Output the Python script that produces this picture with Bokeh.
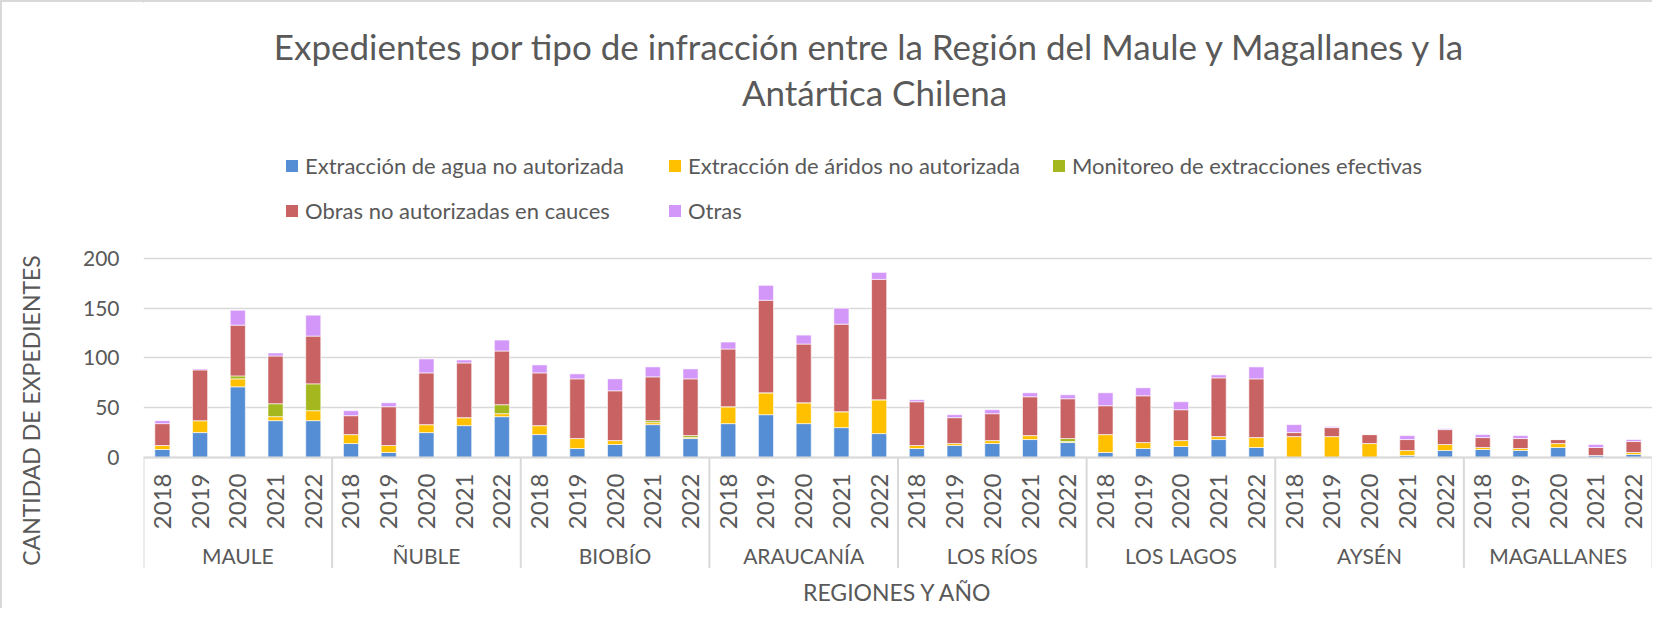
import math
from bokeh.plotting import figure
from bokeh.layouts import column
from bokeh.models import (FactorRange, Range1d, FixedTicker, ColumnDataSource,
                          Legend, LegendItem, Label)
from bokeh.core.properties import value
from bokeh.embed import file_html
from bokeh.resources import INLINE

# ---------------- data ----------------
regions = ["MAULE", "ÑUBLE", "BIOBÍO", "ARAUCANÍA", "LOS RÍOS", "LOS LAGOS", "AYSÉN", "MAGALLANES"]
years = ["2018", "2019", "2020", "2021", "2022"]

series_names = ["Extracción de agua no autorizada",
                "Extracción de áridos no autorizada",
                "Monitoreo de extracciones efectivas",
                "Obras no autorizadas en cauces",
                "Otras"]

agua = [8, 25, 71, 37, 37,
        14, 5, 25, 32, 41,
        23, 9, 13, 33, 19,
        34, 43, 34, 30, 24,
        9, 12, 14, 18, 15,
        5, 9, 11, 18, 10,
        0, 0, 0, 2, 7,
        8, 7, 10, 2, 3]
aridos = [4, 12, 8, 4, 10,
          9, 7, 8, 8, 3,
          9, 10, 4, 2, 1,
          17, 22, 21, 16, 34,
          3, 2, 3, 4, 1,
          18, 6, 6, 3, 10,
          21, 21, 14, 5, 6,
          2, 2, 4, 0, 2]
monitoreo = [0, 0, 3, 13, 27,
             0, 0, 0, 0, 9,
             0, 0, 0, 2, 2,
             0, 0, 0, 0, 0,
             0, 0, 0, 0, 3,
             0, 0, 0, 0, 0,
             0, 0, 0, 0, 0,
             0, 0, 0, 0, 0]
obras = [22, 51, 51, 48, 48,
         19, 39, 52, 55, 54,
         53, 60, 50, 44, 57,
         58, 93, 59, 88, 121,
         44, 26, 27, 39, 40,
         29, 47, 31, 59, 59,
         4, 9, 9, 11, 15,
         10, 10, 4, 8, 11]
otras = [3, 1, 15, 3, 21,
         5, 4, 14, 3, 11,
         8, 5, 12, 10, 10,
         7, 15, 9, 16, 7,
         2, 3, 4, 4, 4,
         13, 8, 8, 3, 12,
         8, 1, 0, 4, 1,
         3, 3, 0, 3, 2]

y_ticks = [0, 50, 100, 150, 200]

colors = ["#558ED5", "#FFC000", "#A5B71F", "#C96262", "#D396F9"]

title_lines = ["Expedientes por tipo de infracción entre la Región del Maule y Magallanes y la",
               "Antártica Chilena"]
y_title = "CANTIDAD DE EXPEDIENTES"
x_title = "REGIONES Y AÑO"

# ---------------- styling constants ----------------
FONT = "Lato"
TXT = "#595959"
GRID = "#d9d9d9"
LEFT = 141          # left panel width
FW = 1509           # plot frame width (page x 144 .. 1653)
HEAD_H = 238        # header frame height
MAIN_TOP = 12       # room above the bar frame for the "200" label
MAIN_H = 316        # bar frame height
FOOT_H = 40

# ---------------- header: title + legend ----------------
head = figure(frame_width=FW, frame_height=HEAD_H, output_backend="svg", toolbar_location=None,
              x_range=Range1d(144, 144 + FW), y_range=Range1d(8 + HEAD_H, 8),
              min_border_left=LEFT, min_border_right=0,
              min_border_top=0, min_border_bottom=0)
head.axis.visible = False
head.grid.visible = False
head.outline_line_color = None

for txt, x, y in [(title_lines[0], 871, 51.5), (title_lines[1], 875, 97)]:
    head.add_layout(Label(x=x, y=y, text=txt, text_font=FONT, text_font_size="35px",
                          text_color=TXT, text_align="center", text_baseline="middle"))

# legend swatches (zero-size proxies placed outside the visible range)
proxies = [head.vbar(x=[0], top=[0], bottom=[0], width=0, fill_color=c, line_color=None)
           for c in colors]
legend_pos = [(141, 61), (524, 61), (908, 61), (141, 16), (524, 16)]
for name, r, loc in zip(series_names, proxies, legend_pos):
    lg = Legend(items=[LegendItem(label=name, renderers=[r])], location=loc,
                glyph_width=15, glyph_height=15, label_standoff=6,
                label_text_font=FONT, label_text_font_size="22px", label_text_color=TXT,
                label_height=22, padding=0, margin=0, spacing=0,
                border_line_color=None, background_fill_alpha=0)
    head.add_layout(lg, "center")

# ---------------- main chart ----------------
factors = [(r, y) for r in regions for y in years]
keys = ["agua", "aridos", "monitoreo", "obras", "otras"]
source = ColumnDataSource(dict(x=factors, agua=agua, aridos=aridos,
                               monitoreo=monitoreo, obras=obras, otras=otras))

x_range = FactorRange(*factors, range_padding=0, group_padding=0, factor_padding=0,
                      subgroup_padding=0)
y_range = Range1d(-111.6, 206)

p = figure(x_range=x_range, y_range=y_range, frame_width=FW, frame_height=MAIN_H,
           output_backend="svg", toolbar_location=None,
           min_border_left=LEFT, min_border_right=0, min_border_top=MAIN_TOP,
           min_border_bottom=0)
p.outline_line_color = None

renderers = p.vbar_stack(keys, x="x", width=0.4, color=colors, source=source,
                         line_color="white", line_width=1, line_alpha=0.6)

# y axis
p.yaxis.ticker = FixedTicker(ticks=y_ticks)
p.yaxis.axis_line_color = None
p.yaxis.major_tick_line_color = None
p.yaxis.major_tick_out = 0
p.yaxis.major_tick_in = 0
p.yaxis.minor_tick_line_color = None
p.yaxis.major_label_text_font = FONT
p.yaxis.major_label_text_font_size = "21px"
p.yaxis.major_label_text_color = TXT
p.yaxis.major_label_standoff = 24
p.yaxis.axis_label = y_title
p.yaxis.axis_label_text_font = FONT
p.yaxis.axis_label_text_font_size = "23px"
p.yaxis.axis_label_text_font_style = "normal"
p.yaxis.axis_label_text_color = TXT
p.yaxis.axis_label_standoff = 35
p.ygrid.ticker = FixedTicker(ticks=y_ticks)
p.ygrid.grid_line_color = GRID
p.ygrid.grid_line_width = 1.5
p.xgrid.visible = False

# categorical x axis drawn at y = 0
xa = p.xaxis[0]
xa.fixed_location = 0
xa.axis_line_color = GRID
xa.axis_line_width = 2
xa.major_tick_line_color = None
xa.major_tick_out = 0
xa.major_tick_in = 0
xa.minor_tick_line_color = None
xa.major_label_orientation = math.pi / 2
xa.major_label_text_font = FONT
xa.major_label_text_font_size = "24px"
xa.major_label_text_color = TXT
xa.major_label_standoff = 16
xa.group_text_font = FONT
xa.group_text_font_size = "21px"
xa.group_text_color = None
if "separator_line_color" in xa.properties():
    xa.separator_line_color = None

# group separators
sep_x = [(r, years[0], -0.5) for r in regions] + [(regions[-1], years[-1], 0.5)]
SEP_BOTTOM = -111
p.segment(x0=sep_x, x1=sep_x, y0=[0] * len(sep_x), y1=[SEP_BOTTOM] * len(sep_x),
          line_color=GRID, line_width=2)

# region labels
REGION_Y = -99
p.text(x=[(r, years[len(years) // 2]) for r in regions], y=[REGION_Y] * len(regions),
       text=regions, text_font=value(FONT), text_font_size="21px", text_color=TXT,
       text_align="center", text_baseline="middle")

# ---------------- footer: x axis title (transparent, may overlap the chart) ----------------
foot = figure(frame_width=FW, frame_height=FOOT_H, output_backend="svg", toolbar_location=None,
              x_range=Range1d(144, 144 + FW), y_range=Range1d(574 + FOOT_H, 574),
              min_border_left=LEFT, min_border_right=0,
              min_border_top=0, min_border_bottom=0)
foot.axis.visible = False
foot.grid.visible = False
foot.outline_line_color = None
foot.background_fill_color = None
foot.border_fill_color = None
foot.add_layout(Label(x=144 + FW / 2, y=597, text=x_title, text_font=FONT,
                      text_font_size="23px", text_color=TXT,
                      text_align="center", text_baseline="middle"))

layout = column(head, p, foot, spacing=0,
                styles={"border-left": "2px solid #d9d9d9", "border-top": "2px solid #d9d9d9"})

open("out.html", "w").write(file_html(layout, INLINE))
